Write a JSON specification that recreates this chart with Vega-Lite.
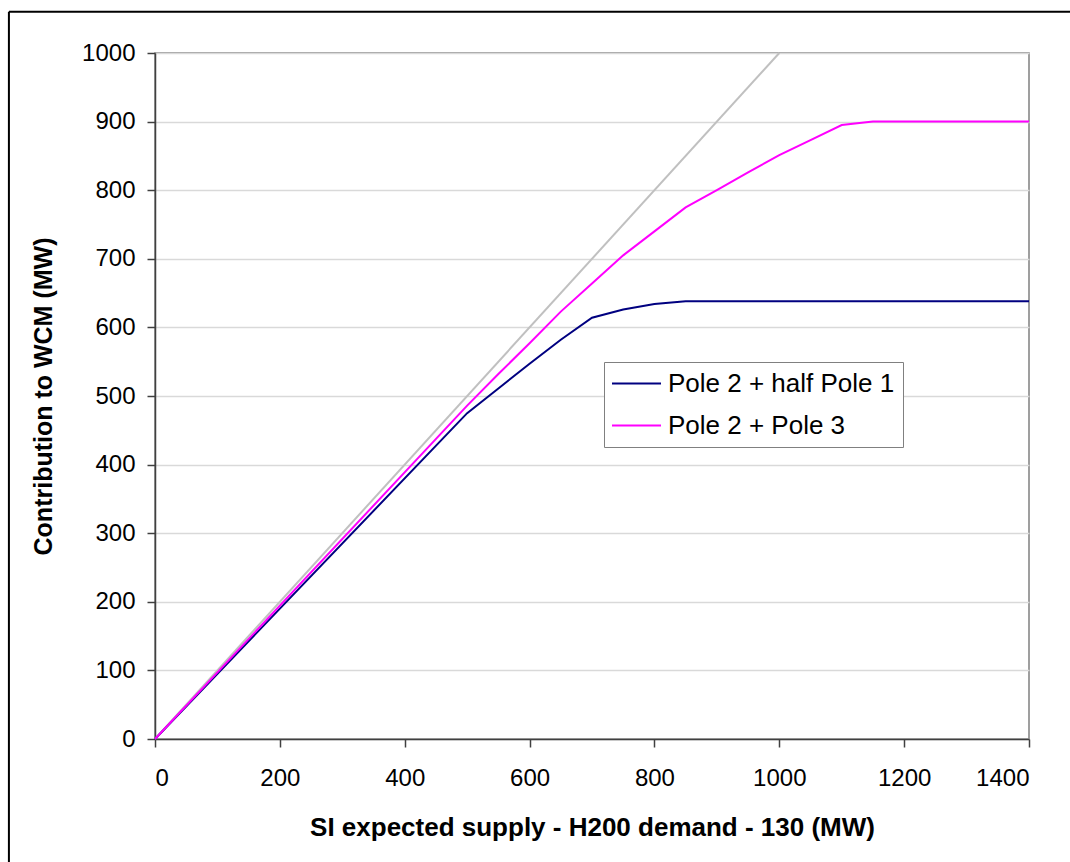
{
  "$schema": "https://vega.github.io/schema/vega-lite/v6.json",
  "width": 874,
  "height": 686,
  "autosize": {"type": "none"},
  "padding": {"left": 155, "top": 53, "right": 41, "bottom": 123},
  "background": "white",
  "config": {
    "font": "Liberation Sans",
    "view": {"stroke": "#808080", "strokeWidth": 1.5},
    "axis": {
      "domainColor": "#404040",
      "domainWidth": 1.5,
      "tickColor": "#404040",
      "tickWidth": 1.5,
      "tickSize": 8,
      "labelFont": "Liberation Sans",
      "labelFontSize": 24,
      "labelColor": "#000000",
      "titleFont": "Liberation Sans",
      "titleFontWeight": "bold",
      "titleColor": "#000000",
      "gridColor": "#d9d9d9",
      "gridWidth": 1.5
    }
  },
  "datasets": {
    "series": [
      {"supply": 0, "contribution": 0, "case": "Pole 2 + half Pole 1"},
      {"supply": 500, "contribution": 475, "case": "Pole 2 + half Pole 1"},
      {"supply": 550, "contribution": 511, "case": "Pole 2 + half Pole 1"},
      {"supply": 600, "contribution": 547, "case": "Pole 2 + half Pole 1"},
      {"supply": 650, "contribution": 582, "case": "Pole 2 + half Pole 1"},
      {"supply": 700, "contribution": 614, "case": "Pole 2 + half Pole 1"},
      {"supply": 750, "contribution": 626, "case": "Pole 2 + half Pole 1"},
      {"supply": 800, "contribution": 634, "case": "Pole 2 + half Pole 1"},
      {"supply": 850, "contribution": 638, "case": "Pole 2 + half Pole 1"},
      {"supply": 1400, "contribution": 638, "case": "Pole 2 + half Pole 1"},
      {"supply": 0, "contribution": 0, "case": "Pole 2 + Pole 3"},
      {"supply": 500, "contribution": 486, "case": "Pole 2 + Pole 3"},
      {"supply": 550, "contribution": 532, "case": "Pole 2 + Pole 3"},
      {"supply": 600, "contribution": 577, "case": "Pole 2 + Pole 3"},
      {"supply": 650, "contribution": 623, "case": "Pole 2 + Pole 3"},
      {"supply": 700, "contribution": 664, "case": "Pole 2 + Pole 3"},
      {"supply": 750, "contribution": 705, "case": "Pole 2 + Pole 3"},
      {"supply": 800, "contribution": 740, "case": "Pole 2 + Pole 3"},
      {"supply": 850, "contribution": 775, "case": "Pole 2 + Pole 3"},
      {"supply": 900, "contribution": 800, "case": "Pole 2 + Pole 3"},
      {"supply": 950, "contribution": 826, "case": "Pole 2 + Pole 3"},
      {"supply": 1000, "contribution": 851, "case": "Pole 2 + Pole 3"},
      {"supply": 1050, "contribution": 873, "case": "Pole 2 + Pole 3"},
      {"supply": 1100, "contribution": 895, "case": "Pole 2 + Pole 3"},
      {"supply": 1150, "contribution": 900, "case": "Pole 2 + Pole 3"},
      {"supply": 1400, "contribution": 900, "case": "Pole 2 + Pole 3"}
    ],
    "reference": [
      {"supply": 0, "contribution": 0},
      {"supply": 1000, "contribution": 1000}
    ]
  },
  "layer": [
    {
      "data": {"name": "reference"},
      "mark": {"type": "line", "color": "#c0c0c0", "strokeWidth": 2},
      "encoding": {
        "x": {
          "field": "supply", "type": "quantitative",
          "scale": {"domain": [0, 1400], "nice": false, "zero": false},
          "axis": {
            "title": "SI expected supply - H200 demand - 130 (MW)",
            "titleFontSize": 26,
            "values": [0, 200, 400, 600, 800, 1000, 1200, 1400],
            "format": "d",
            "grid": false,
            "labelPadding": 19,
            "titlePadding": 24
          }
        },
        "y": {
          "field": "contribution", "type": "quantitative",
          "scale": {"domain": [0, 1000], "nice": false, "zero": false},
          "axis": {
            "title": "Contribution to WCM (MW)",
            "titleFontSize": 25,
            "values": [0, 100, 200, 300, 400, 500, 600, 700, 800, 900, 1000],
            "format": "d",
            "grid": true,
            "labelPadding": 12,
            "titlePadding": 25
          }
        }
      }
    },
    {
      "data": {"name": "series"},
      "mark": {"type": "line", "strokeWidth": 2},
      "encoding": {
        "x": {"field": "supply", "type": "quantitative"},
        "y": {"field": "contribution", "type": "quantitative"},
        "color": {
          "field": "case", "type": "nominal",
          "scale": {"domain": ["Pole 2 + half Pole 1", "Pole 2 + Pole 3"], "range": ["#000080", "#ff00ff"]},
          "legend": {
            "title": null,
            "orient": "none",
            "legendX": 449,
            "legendY": 309,
            "strokeColor": "#808080",
            "fillColor": "white",
            "padding": 8,
            "symbolType": "M-2,0H2",
            "symbolSize": 600,
            "symbolStrokeWidth": 2,
            "symbolOffset": 11,
            "labelOffset": 18,
            "labelFont": "Liberation Sans",
            "labelFontSize": 26,
            "labelLimit": 0,
            "labelColor": "#000000",
            "rowPadding": 15
          }
        }
      }
    },
    {
      "data": {"values": [{"frame": "left"}]},
      "mark": {"type": "rule", "color": "#000000", "strokeWidth": 2, "clip": false},
      "encoding": {
        "x": {"datum": -234},
        "y": {"datum": 1060},
        "y2": {"datum": -400}
      }
    },
    {
      "data": {"values": [{"frame": "top"}]},
      "mark": {"type": "rule", "color": "#000000", "strokeWidth": 2, "clip": false},
      "encoding": {
        "x": {"datum": -234},
        "x2": {"datum": 1800},
        "y": {"datum": 1060}
      }
    }
  ]
}
